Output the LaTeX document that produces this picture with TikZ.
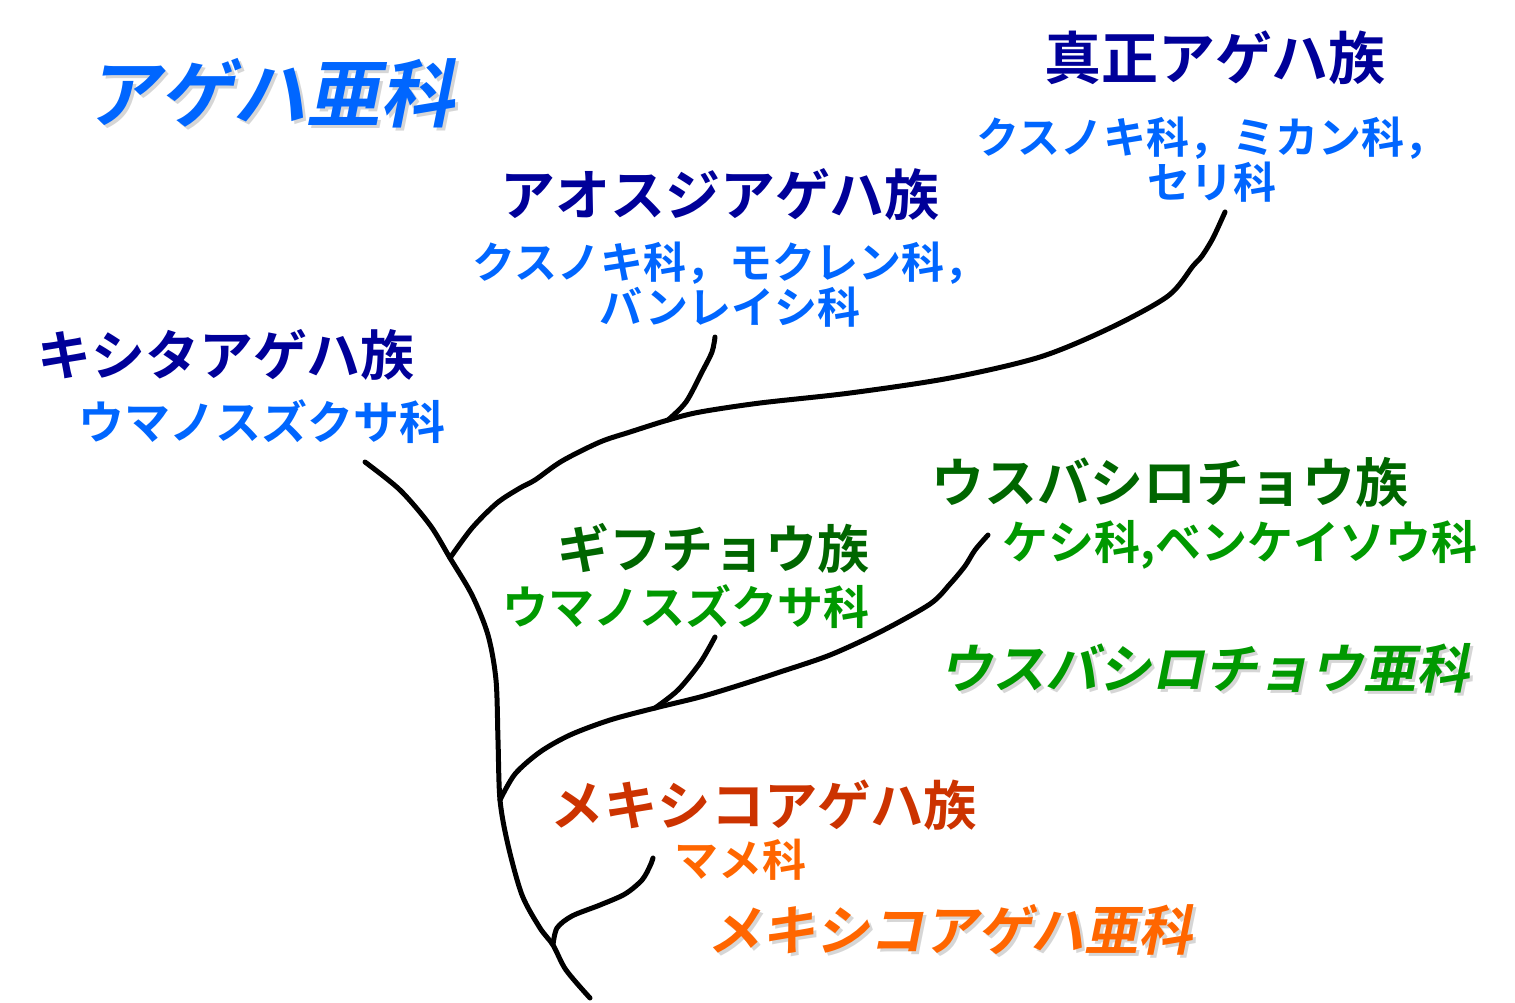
\documentclass[tikz,border=0pt]{standalone}
\usetikzlibrary{positioning}
\usepackage{xcolor}
\usepackage{fontspec}
\newfontfamily\jpbold{Noto Sans CJK JP Bold}
\newfontfamily\jpslant[FakeSlant=0.2]{Noto Sans CJK JP Bold}
\definecolor{navy}{HTML}{000099}
\definecolor{skyblue}{HTML}{0066FF}
\definecolor{darkgreen}{HTML}{006600}
\definecolor{leafgreen}{HTML}{009900}
\definecolor{rust}{HTML}{CC3300}
\definecolor{tangerine}{HTML}{FF6600}

\begin{document}
\begin{tikzpicture}[x=0.5pt,y=-0.5pt,line cap=round,line join=round]
    \tikzstyle{tribe}=[inner sep=0pt, font=\jpbold\fontsize{27}{30}\selectfont]
    \tikzstyle{host plant}=[inner sep=0pt, align=center, font=\jpbold\fontsize{21.5}{22.5}\selectfont];
    \tikzstyle{subfamily}=[inner sep=0pt, font=\jpslant\fontsize{26.5}{30}\selectfont];
    \tikzstyle{shadow}=[subfamily, text=black!40, opacity=0.4];
    \tikzstyle{branch}=[draw=black, line width=2.5pt];
    \useasboundingbox (0,0) rectangle (1515,1002);

    % Subfamily titles (with a soft shadow)
    \node[shadow, font=\jpslant\fontsize{37}{40}\selectfont] (papS) at (273,96) {アゲハ亜科};
    \node[subfamily, text=skyblue, font=\jpslant\fontsize{37}{40}\selectfont] (pap) at (270,93) {アゲハ亜科};
    \node[shadow] (parS) at (1207,671) {ウスバシロチョウ亜科};
    \node[subfamily, text=leafgreen] (par) at (1204,668) {ウスバシロチョウ亜科};
    \node[shadow, font=\jpslant\fontsize{27}{30}\selectfont] (barS) at (953,933) {メキシコアゲハ亜科};
    \node[subfamily, text=tangerine, font=\jpslant\fontsize{27}{30}\selectfont] (bar) at (950,930) {メキシコアゲハ亜科};

    % Tribes
    \node[tribe, text=navy, font=\jpbold\fontsize{28.5}{30}\selectfont] (T-1) at (1215,58) {真正アゲハ族};
    \node[tribe, text=navy, font=\jpbold\fontsize{27.5}{30}\selectfont] (T-2) at (720,195) {アオスジアゲハ族};
    \node[tribe, text=navy] (T-3) at (226,355) {キシタアゲハ族};
    \node[tribe, text=darkgreen, font=\jpbold\fontsize{26.5}{30}\selectfont] (T-4) at (1170,482) {ウスバシロチョウ族};
    \node[tribe, text=darkgreen, font=\jpbold\fontsize{26}{30}\selectfont] (T-5) at (713,548) {ギフチョウ族};
    \node[tribe, text=rust, font=\jpbold\fontsize{26.7}{30}\selectfont] (T-6) at (764,805) {メキシコアゲハ族};

    % Host plants
    \node[host plant, text=skyblue] (H-1) at (1212,160) {クスノキ科，ミカン科，\\セリ科};
    \node[host plant, text=skyblue] (H-2) at (730,285) {クスノキ科，モクレン科，\\バンレイシ科};
    \node[host plant, text=skyblue, font=\jpbold\fontsize{23}{25}\selectfont] (H-3) at (262,422) {ウマノスズクサ科};
    \node[host plant, text=leafgreen, font=\jpbold\fontsize{23}{25}\selectfont] (H-4) at (1240,545) {ケシ科,ベンケイソウ科};
    \node[host plant, text=leafgreen, font=\jpbold\fontsize{23}{25}\selectfont] (H-5) at (686,607) {ウマノスズクサ科};
    \node[host plant, text=tangerine, font=\jpbold\fontsize{22}{25}\selectfont] (H-6) at (740,860) {マメ科};

    % Branch points and tips of the tree
    \coordinate (root) at (365,462);
    \coordinate (jA) at (450,558);
    \coordinate (jB) at (500,800);
    \coordinate (jC) at (553,945);
    \coordinate (jD) at (668,420);
    \coordinate (jE) at (655,708);
    \coordinate (base) at (590,998);
    \coordinate (tip-1) at (1225,212);
    \coordinate (tip-2) at (715,337);
    \coordinate (tip-4) at (988,535);
    \coordinate (tip-5) at (715,637);
    \coordinate (tip-6) at (653,858);

    % Trunk
    \draw[branch] plot[smooth, tension=0.5] coordinates {(root) (400,490) (430,525) (jA) (472,595) (488,635) (496,680) (498,740) (jB) (508,845) (522,895) (540,928) (jC) (566,970) (base)};

    % Upper branches
    \draw[branch] plot[smooth, tension=0.5] coordinates {(jA) (472,528) (497,503) (520,488) (535,480) (562,461) (600,442) (630,432) (jD) (700,412) (760,403) (850,393) (950,378) (1040,357) (1110,328) (1168,296) (1193,266) (1202,256) (1213,238) (tip-1)};
    \draw[branch] plot[smooth, tension=0.5] coordinates {(jD) (686,402) (702,372) (712,352) (tip-2)};

    % Middle branches
    \draw[branch] plot[smooth, tension=0.5] coordinates {(jB) (515,774) (540,752) (570,735) (610,720) (jE) (700,697) (740,685) (780,672) (830,655) (880,632) (930,604) (950,584) (965,566) (975,550) (tip-4)};
    \draw[branch] plot[smooth, tension=0.5] coordinates {(jE) (678,690) (700,663) (tip-5)};

    % Lower branch
    \draw[branch] plot[smooth, tension=0.5] coordinates {(jC) (557,928) (572,916) (600,905) (625,894) (642,880) (650,866) (tip-6)};
\end{tikzpicture}
\end{document}
